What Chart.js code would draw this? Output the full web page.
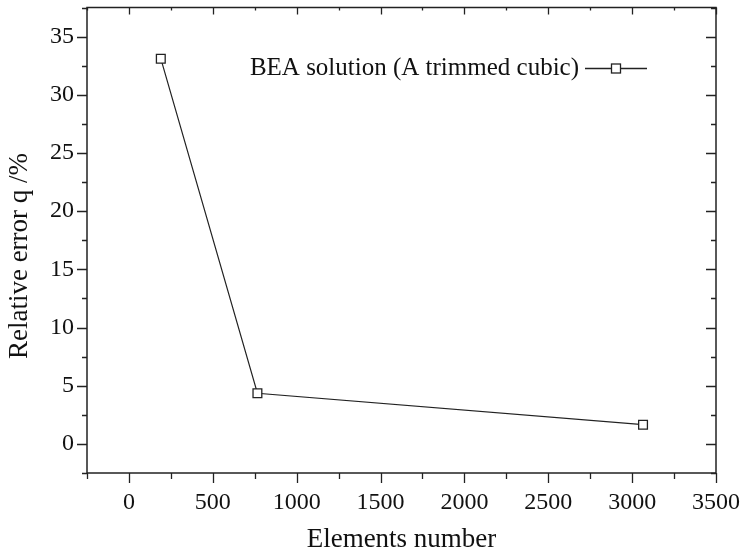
<!DOCTYPE html>
<html>
<head>
<meta charset="utf-8">
<script src="https://cdn.jsdelivr.net/npm/chart.js@4"></script>
<style>
  html, body { margin: 0; padding: 0; background: #fff; }
  #wrap { width: 740px; height: 557px; }
</style>
</head>
<body>
<div id="wrap"><canvas id="chart" width="740" height="557"></canvas></div>
<script>
// Data
const elements = [190, 766, 3065];
const relError = [33.1, 4.35, 1.65];
const seriesLabel = "BEA solution (A trimmed cubic)";
const xTitle = "Elements number";
const yTitle = "Relative error q /%";

const ink = "#222";
const serif = "'Liberation Serif', 'Times New Roman', serif";

// frame, ticks on all four sides, y title and the legend in the top-right
const framePlugin = {
  id: "frame",
  afterDraw(chart) {
    const ctx = chart.ctx;
    const a = chart.chartArea;
    const xs = chart.scales.x, ys = chart.scales.y;
    ctx.save();
    ctx.strokeStyle = ink;
    ctx.lineWidth = 1.5;
    ctx.strokeRect(a.left, a.top, a.right - a.left, a.bottom - a.top);

    ctx.lineWidth = 1.3;
    ctx.beginPath();
    xs.ticks.forEach(t => {
      const px = Math.round(xs.getPixelForValue(t.value)) + 0.5;
      const major = t.value % 500 === 0;
      // bottom, outward
      ctx.moveTo(px, a.bottom); ctx.lineTo(px, a.bottom + (major ? 10 : 6));
      // top, inward
      ctx.moveTo(px, a.top); ctx.lineTo(px, a.top + (major ? 7 : 3));
    });
    ys.ticks.forEach(t => {
      const py = Math.round(ys.getPixelForValue(t.value)) + 0.5;
      const major = Math.abs(t.value % 5) < 1e-6;
      // left, outward
      ctx.moveTo(a.left, py); ctx.lineTo(a.left - (major ? 10 : 5), py);
      // right, inward
      ctx.moveTo(a.right, py); ctx.lineTo(a.right - (major ? 10 : 5), py);
    });
    ctx.stroke();

    // y axis title, a little below the middle like the original
    ctx.fillStyle = "#111";
    ctx.font = "27px " + serif;
    ctx.textAlign = "center";
    ctx.textBaseline = "middle";
    ctx.translate(20, 256);
    ctx.rotate(-Math.PI / 2);
    ctx.fillText(yTitle, 0, 0);
    ctx.setTransform(1, 0, 0, 1, 0, 0);

    // legend
    const ds = chart.data.datasets[0];
    const ly = 68;
    ctx.font = "25px " + serif;
    ctx.textAlign = "right";
    ctx.fillText(ds.label, 579, ly);
    ctx.lineWidth = 1.3;
    ctx.beginPath();
    ctx.moveTo(585, ly + 0.5); ctx.lineTo(647, ly + 0.5);
    ctx.stroke();
    ctx.fillStyle = "#fff";
    ctx.fillRect(611.5, ly - 4, 9, 9);
    ctx.strokeRect(611.5, ly - 4, 9, 9);
    ctx.restore();
  }
};

function noPadH(s) { s.paddingLeft = 0; s.paddingRight = 0; }
function noPadV(s) { s.paddingTop = 0; s.paddingBottom = 0; }

new Chart(document.getElementById("chart"), {
  type: "scatter",
  data: {
    datasets: [{
      label: seriesLabel,
      data: elements.map((x, i) => ({ x: x, y: relError[i] })),
      showLine: true,
      borderColor: ink,
      borderWidth: 1.2,
      pointStyle: "rect",
      pointRadius: 6.2,
      pointBorderWidth: 1.3,
      pointBackgroundColor: "#fff",
      pointBorderColor: ink,
      tension: 0
    }]
  },
  options: {
    responsive: false,
    animation: false,
    layout: { padding: { top: 5, right: 24, left: 0, bottom: 0 } },
    plugins: {
      legend: { display: false },
      tooltip: { enabled: false }
    },
    scales: {
      x: {
        type: "linear",
        min: -250,
        max: 3500,
        grid: { display: false, drawTicks: false },
        border: { display: false },
        ticks: {
          stepSize: 250,
          autoSkip: false,
          maxRotation: 0,
          padding: 15,
          color: "#111",
          font: { family: serif, size: 24 },
          callback: v => (v % 500 === 0 ? String(v) : "")
        },
        title: {
          display: true,
          text: xTitle,
          color: "#111",
          font: { family: serif, size: 27 },
          padding: { top: 1, bottom: 1 }
        },
        afterFit: s => { s.height = 84; noPadH(s); noPadV(s); }
      },
      y: {
        type: "linear",
        min: -2.5,
        max: 37.5,
        grid: { display: false, drawTicks: false },
        border: { display: false },
        ticks: {
          stepSize: 2.5,
          autoSkip: false,
          padding: 13,
          color: "#111",
          font: { family: serif, size: 24 },
          callback: v => (Math.abs(v % 5) < 1e-6 ? String(v) : "")
        },
        title: { display: false },
        afterFit: s => { s.width = 87; noPadH(s); noPadV(s); }
      }
    }
  },
  plugins: [framePlugin]
});
</script>
</body>
</html>
